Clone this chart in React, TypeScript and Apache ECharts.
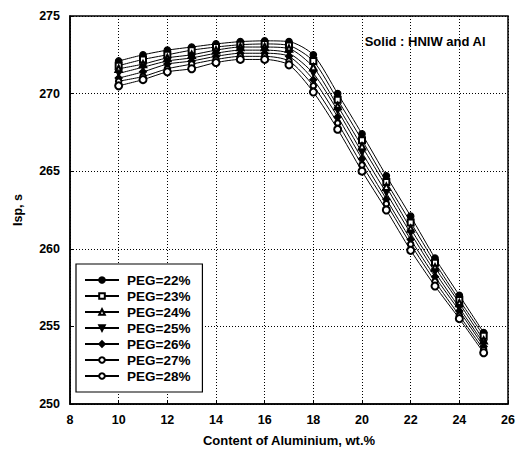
import React, { useEffect, useRef } from "react";
import * as echarts from "echarts";

const aluminium = [10, 11, 12, 13, 14, 15, 16, 17, 18, 19, 20, 21, 22, 23, 24, 25];
const seriesNames = ["PEG=22%", "PEG=23%", "PEG=24%", "PEG=25%", "PEG=26%", "PEG=27%", "PEG=28%"];
const peg22 = [272.1, 272.5, 272.8, 273.0, 273.2, 273.35, 273.4, 273.35, 272.5, 270.0, 267.4, 264.7, 262.1, 259.4, 257.0, 254.6];
const peg23 = [271.8, 272.2, 272.5, 272.8, 273.0, 273.15, 273.2, 273.1, 272.1, 269.6, 267.0, 264.3, 261.7, 259.1, 256.7, 254.4];
const peg24 = [271.6, 271.9, 272.3, 272.5, 272.8, 273.0, 273.0, 272.9, 271.7, 269.2, 266.6, 264.0, 261.3, 258.8, 256.5, 254.1];
const peg25 = [271.3, 271.7, 272.1, 272.3, 272.6, 272.8, 272.8, 272.6, 271.3, 268.9, 266.2, 263.6, 261.0, 258.5, 256.2, 253.9];
const peg26 = [271.0, 271.4, 271.9, 272.1, 272.4, 272.6, 272.6, 272.4, 270.9, 268.5, 265.8, 263.2, 260.6, 258.2, 256.0, 253.7];
const peg27 = [270.8, 271.1, 271.6, 271.9, 272.2, 272.4, 272.4, 272.1, 270.5, 268.1, 265.4, 262.9, 260.3, 257.9, 255.7, 253.5];
const peg28 = [270.5, 270.9, 271.4, 271.6, 272.0, 272.2, 272.2, 271.85, 270.1, 267.7, 265.0, 262.5, 259.9, 257.6, 255.5, 253.3];
const allValues = [peg22, peg23, peg24, peg25, peg26, peg27, peg28];

const symbols = [
  "circle",
  "emptyRect",
  "emptyTriangle",
  "path://M0,0 L10,0 L5,9 Z",
  "diamond",
  "emptyCircle",
  "emptyCircle",
];
const symbolSizes = [6.5, 6, 6.5, 6.5, 7, 5.5, 7];

const FONT = "'Liberation Sans', Arial, sans-serif";

export default function App() {
  const ref = useRef<HTMLDivElement>(null);
  useEffect(() => {
    if (!ref.current) return;
    const chart = echarts.init(ref.current, undefined, { renderer: "svg" });
    const series = allValues.map((vals, i) => ({
      name: seriesNames[i],
      type: "line",
      data: aluminium.map((x, j) => [x, vals[j]]),
      smooth: 0.25,
      symbol: symbols[i],
      symbolSize: symbolSizes[i],
      showSymbol: true,
      lineStyle: { color: "#000", width: 1 },
      itemStyle: { color: "#000", borderColor: "#000", borderWidth: 1.2 },
      emphasis: { disabled: true },
    }));
    chart.setOption({
      animation: false,
      backgroundColor: "#fff",
      grid: {
        left: 70,
        right: 21,
        top: 16,
        bottom: 51,
        show: true,
        borderColor: "#000",
        borderWidth: 1.5,
        backgroundColor: "transparent",
      },
      title: {
        text: "Solid : HNIW and Al",
        right: 38,
        top: 30,
        textStyle: { fontFamily: FONT, fontWeight: "bold", fontSize: 13, color: "#000" },
      },
      legend: {
        orient: "vertical",
        left: 76,
        top: 264,
        data: seriesNames,
        backgroundColor: "#fff",
        borderColor: "#000",
        borderWidth: 1.2,
        borderRadius: 0,
        padding: [9, 12, 9, 8],
        itemGap: 2,
        itemWidth: 34,
        itemHeight: 7,
        textStyle: { fontFamily: FONT, fontWeight: "bold", fontSize: 13.5, color: "#000", padding: [0, 0, 0, 3] },
      },
      xAxis: {
        type: "value",
        min: 8,
        max: 26,
        interval: 2,
        name: "Content of Aluminium, wt.%",
        nameLocation: "middle",
        nameGap: 30,
        nameTextStyle: { fontFamily: FONT, fontWeight: "bold", fontSize: 13, color: "#000" },
        axisLine: { show: true, onZero: false, lineStyle: { color: "#000", width: 1.5 } },
        axisTick: { show: true, inside: true, length: 4, lineStyle: { color: "#000" } },
        axisLabel: { fontFamily: FONT, fontWeight: "bold", fontSize: 12.5, color: "#000", margin: 9 },
        splitLine: { show: true, lineStyle: { color: "#000", type: [1, 2], width: 1 } },
      },
      yAxis: {
        type: "value",
        min: 250,
        max: 275,
        interval: 5,
        name: "Isp, s",
        nameLocation: "middle",
        nameGap: 46,
        nameTextStyle: { fontFamily: FONT, fontWeight: "bold", fontSize: 12.5, color: "#000" },
        axisLine: { show: true, onZero: false, lineStyle: { color: "#000", width: 1.5 } },
        axisTick: { show: true, inside: true, length: 4, lineStyle: { color: "#000" } },
        axisLabel: { fontFamily: FONT, fontWeight: "bold", fontSize: 12.5, color: "#000", margin: 10 },
        splitLine: { show: true, lineStyle: { color: "#000", type: [1, 2], width: 1 } },
      },
      series,
    });
    return () => chart.dispose();
  }, []);
  return <div ref={ref} style={{ width: 529, height: 455, margin: -8 }} />;
}
